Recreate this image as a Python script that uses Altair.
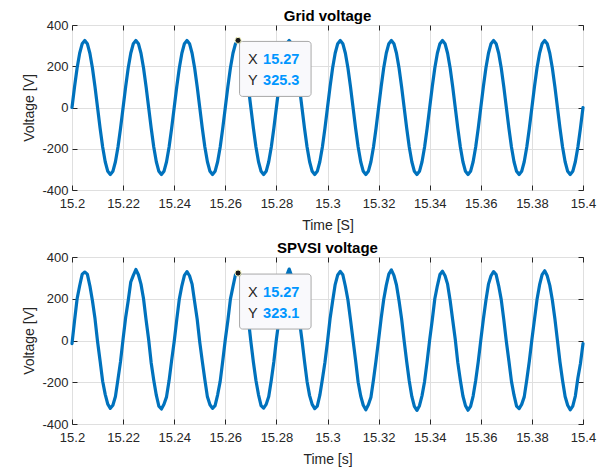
import altair as alt
import pandas as pd

# ---------------- data ----------------
T_START = 15.2          # first sample time [s]
T_STEP = 0.001          # sample spacing [s]

grid_v = [
    0, 100.5, 191.2, 263.2, 309.4, 325.3, 309.4, 263.2, 191.2, 100.5, 0, -100.5, -191.2, -263.2, -309.4, -325.3, -309.4, -263.2, -191.2, -100.5,
    0, 100.5, 191.2, 263.2, 309.4, 325.3, 309.4, 263.2, 191.2, 100.5, 0, -100.5, -191.2, -263.2, -309.4, -325.3, -309.4, -263.2, -191.2, -100.5,
    0, 100.5, 191.2, 263.2, 309.4, 325.3, 309.4, 263.2, 191.2, 100.5, 0, -100.5, -191.2, -263.2, -309.4, -325.3, -309.4, -263.2, -191.2, -100.5,
    0, 100.5, 191.2, 263.2, 309.4, 325.3, 309.4, 263.2, 191.2, 100.5, 0, -100.5, -191.2, -263.2, -309.4, -325.3, -309.4, -263.2, -191.2, -100.5,
    0, 100.5, 191.2, 263.2, 309.4, 325.3, 309.4, 263.2, 191.2, 100.5, 0, -100.5, -191.2, -263.2, -309.4, -325.3, -309.4, -263.2, -191.2, -100.5,
    0, 100.5, 191.2, 263.2, 309.4, 325.3, 309.4, 263.2, 191.2, 100.5, 0, -100.5, -191.2, -263.2, -309.4, -325.3, -309.4, -263.2, -191.2, -100.5,
    0, 100.5, 191.2, 263.2, 309.4, 325.3, 309.4, 263.2, 191.2, 100.5, 0, -100.5, -191.2, -263.2, -309.4, -325.3, -309.4, -263.2, -191.2, -100.5,
    0, 100.5, 191.2, 263.2, 309.4, 325.3, 309.4, 263.2, 191.2, 100.5, 0, -100.5, -191.2, -263.2, -309.4, -325.3, -309.4, -263.2, -191.2, -100.5,
    0, 100.5, 191.2, 263.2, 309.4, 325.3, 309.4, 263.2, 191.2, 100.5, 0, -100.5, -191.2, -263.2, -309.4, -325.3, -309.4, -263.2, -191.2, -100.5,
    0, 100.5, 191.2, 263.2, 309.4, 325.3, 309.4, 263.2, 191.2, 100.5, 0, -100.5, -191.2, -263.2, -309.4, -325.3, -309.4, -263.2, -191.2, -100.5,
    0,
]

spvsi_v = [
    -15, 95, 200, 262, 318, 328, 318, 262, 190, 105, -5, -98, -195, -258, -305, -325, -310, -268, -185, -100,
    8, 110, 190, 280, 312, 340, 315, 270, 200, 98, 5, -108, -190, -262, -315, -328, -305, -270, -192, -95,
    -5, 100, 198, 262, 312, 330, 310, 270, 185, 102, -8, -100, -188, -270, -308, -325, -312, -260, -196, -98,
    5, 96, 198, 258, 316, 323.1, 312, 268, 186, 105, -4, -104, -192, -260, -312, -324, -306, -268, -190, -102,
    6, 98, 195, 270, 310, 342, 308, 262, 198, 96, 4, -100, -196, -264, -306, -326, -314, -262, -186, -104,
    -6, 104, 188, 268, 314, 331, 315, 260, 194, 100, 2, -96, -200, -266, -310, -332, -308, -272, -188, -96,
    3, 106, 196, 264, 318, 338, 312, 266, 190, 104, -2, -102, -194, -268, -316, -335, -312, -264, -196, -100,
    4, 98, 200, 262, 316, 332, 310, 270, 192, 98, 6, -106, -190, -266, -312, -334, -316, -266, -192, -102,
    2, 102, 192, 270, 310, 330, 316, 262, 196, 100, -5, -98, -196, -262, -314, -326, -306, -270, -188, -98,
    5, 100, 196, 266, 316, 334, 310, 264, 194, 104, 0, -104, -192, -268, -310, -332, -314, -266, -180, -110,
    -15,
]

x_ticks = [15.2, 15.22, 15.24, 15.26, 15.28, 15.3, 15.32, 15.34, 15.36, 15.38, 15.4]
y_ticks = [-400, -200, 0, 200, 400]
x_domain = [15.2, 15.4]
y_domain = [-400, 400]

tip_t = [15.265]
tip_grid = [325.3]
tip_spvsi = [323.1]
tip_x_label = ["15.27"]
tip_grid_label = ["325.3"]
tip_spvsi_label = ["323.1"]

titles = ["Grid voltage", "SPVSI voltage"]
x_titles = ["Time [S]", "Time [s]"]
y_title = "Voltage [V]"

# ---------------- styling ----------------
FONT = "Liberation Sans"
BLUE = "#0072BD"
DARK = "#262626"
TIP_BLUE = "#0096FF"

times = [round(T_START + i * T_STEP, 4) for i in range(len(grid_v))]
df = pd.DataFrame({"t": times, "grid": grid_v, "spvsi": spvsi_v})

label_expr = "datum.value + ''"


def panel(field, tip_vals, tip_val_label, title, x_title, h):
    xs = alt.Scale(domain=x_domain, nice=False, zero=False)
    ys = alt.Scale(domain=y_domain, nice=False, zero=False)
    tip = pd.DataFrame({"t": tip_t, "v": tip_vals, "xl": ["X"], "yl": ["Y"],
                        "xv": tip_x_label, "yv": tip_val_label})

    line = alt.Chart(df).mark_line(color=BLUE, strokeWidth=3.2, strokeJoin="round",
                                   strokeCap="round").encode(
        x=alt.X("t:Q", scale=xs, axis=alt.Axis(
            values=x_ticks, title=x_title, labelExpr=label_expr, grid=True,
            ticks=False, domain=False, labelFlush=False, labelPadding=7, titlePadding=8)),
        y=alt.Y(f"{field}:Q", scale=ys, axis=alt.Axis(
            values=y_ticks, title=y_title, labelExpr=label_expr, grid=True,
            ticks=False, domain=False, labelFlush=False, labelPadding=4, titlePadding=5)),
    )

    ticks_tr = alt.Chart(tip).mark_point(opacity=0).encode(
        x=alt.X("t:Q", scale=xs, axis=alt.Axis(
            orient="top", values=x_ticks, labels=False, grid=False, domain=False,
            ticks=True, tickSize=5, offset=-5, title=None)),
        y=alt.Y("v:Q", scale=ys, axis=alt.Axis(
            orient="right", values=y_ticks, labels=False, grid=False, domain=False,
            ticks=True, tickSize=5, offset=-5, title=None)),
    )
    ticks_bl = alt.Chart(tip).mark_point(opacity=0).encode(
        x=alt.X("t:Q", scale=xs, axis=alt.Axis(
            orient="bottom", values=x_ticks, labels=False, grid=False, domain=False,
            ticks=True, tickSize=5, offset=-5, title=None)),
        y=alt.Y("v:Q", scale=ys, axis=alt.Axis(
            orient="left", values=y_ticks, labels=False, grid=False, domain=False,
            ticks=True, tickSize=5, offset=-5, title=None)),
    )

    enc = dict(x=alt.X("t:Q", scale=xs, axis=None), y=alt.Y("v:Q", scale=ys, axis=None))

    box = alt.Chart(tip).mark_rect(
        fill="#f9f9fc", stroke="#a8a8a8", strokeWidth=1, cornerRadius=3,
        xOffset=1.5, x2Offset=73, yOffset=1, y2Offset=56,
    ).encode(x2="t:Q", y2="v:Q", **enc)

    lab1 = alt.Chart(tip).mark_text(align="left", baseline="middle", dx=10, dy=20,
                                    fontSize=14.5, font=FONT, color=DARK).encode(text="xl:N", **enc)
    val1 = alt.Chart(tip).mark_text(align="left", baseline="middle", dx=25, dy=20,
                                    fontSize=14.5, font=FONT, fontWeight="bold",
                                    color=TIP_BLUE).encode(text="xv:N", **enc)
    lab2 = alt.Chart(tip).mark_text(align="left", baseline="middle", dx=10, dy=41,
                                    fontSize=14.5, font=FONT, color=DARK).encode(text="yl:N", **enc)
    val2 = alt.Chart(tip).mark_text(align="left", baseline="middle", dx=25, dy=41,
                                    fontSize=14.5, font=FONT, fontWeight="bold",
                                    color=TIP_BLUE).encode(text="yv:N", **enc)
    marker = alt.Chart(tip).mark_circle(size=38, fill="#1a1a1a", stroke="#f4f4c0",
                                        strokeWidth=1, opacity=1).encode(**enc)

    return alt.layer(line, ticks_tr, ticks_bl, box, lab1, val1, lab2, val2, marker).resolve_axis(
        x="independent", y="independent"
    ).properties(
        width=511, height=h,
        title=alt.TitleParams(title, fontSize=15, fontWeight="bold", color="#000000",
                              font=FONT, offset=-5),
    )


top = panel("grid", tip_grid, tip_grid_label, titles[0], x_titles[0], 165)
bottom = panel("spvsi", tip_spvsi, tip_spvsi_label, titles[1], x_titles[1], 167)

chart = alt.vconcat(top, bottom, spacing=67, bounds="flush").properties(
    padding={"left": 14, "top": 0, "right": 5, "bottom": 0},
).configure_view(
    stroke=DARK, strokeWidth=1,
).configure_axis(
    labelFont=FONT, labelFontSize=13, labelColor=DARK,
    titleFont=FONT, titleFontSize=14, titleFontWeight="normal", titleColor=DARK,
    gridColor="#dfdfdf", gridWidth=1, tickColor=DARK, tickWidth=1,
)

chart.save("out.html", embed_options={"renderer": "svg", "actions": False})
